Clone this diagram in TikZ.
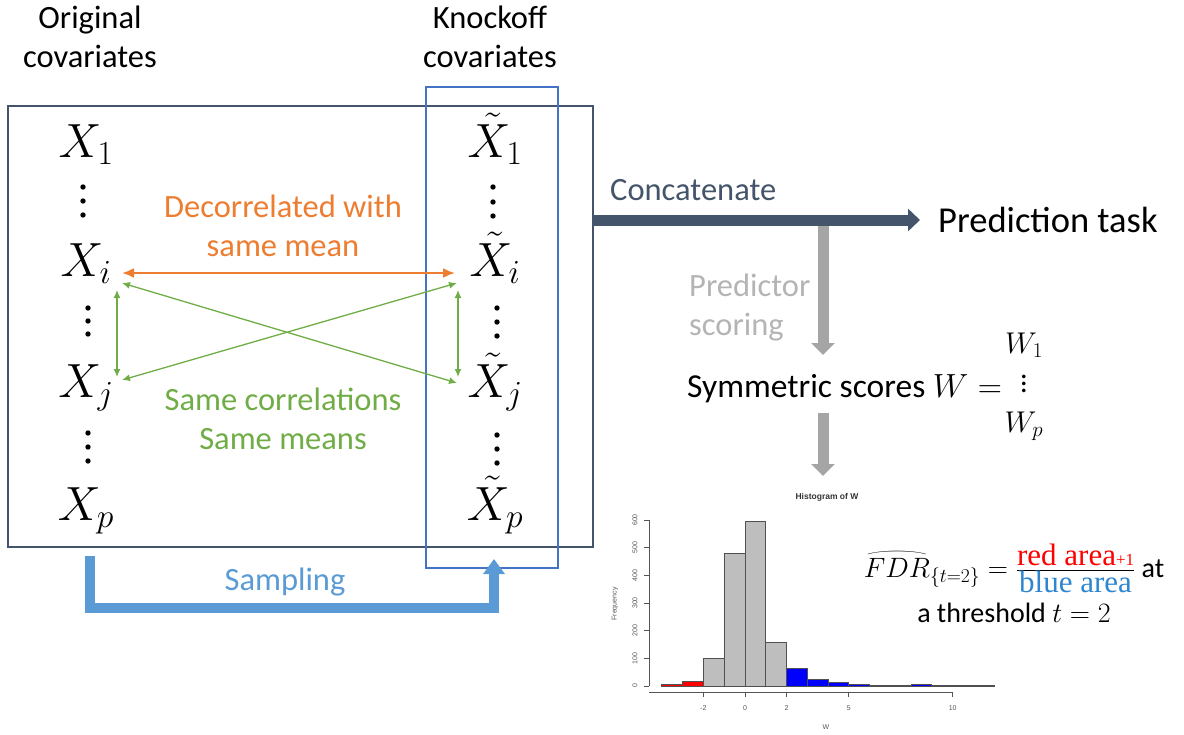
\RequirePackage{fix-cm}
\documentclass[tikz,border=0pt]{standalone}
\usepackage[no-math]{fontspec}
\setmainfont{Carlito}
\newfontfamily\serifrm{Liberation Serif}
\newfontfamily\arialf{Liberation Sans}
\usetikzlibrary{arrows.meta}
\definecolor{slate}{HTML}{44546A}
\definecolor{kblue}{HTML}{4472C4}
\definecolor{orng}{HTML}{ED7D31}
\definecolor{grn}{HTML}{70AD47}
\definecolor{sblue}{HTML}{5B9BD5}
\definecolor{garrow}{HTML}{A5A5A5}
\definecolor{gtext}{HTML}{B4B4B4}
\definecolor{fred}{HTML}{FF0000}
\definecolor{fblue}{HTML}{2E86D1}
\definecolor{hred}{HTML}{FF0000}
\definecolor{hblue}{HTML}{0000FF}
\definecolor{hgrey}{HTML}{BEBEBE}
\definecolor{hedge}{HTML}{505050}
\definecolor{htext}{HTML}{555555}
\newcommand\ctwo[2]{\vtop{\halign{\hfil##\hfil\cr#1\cr#2\cr}}}
\newcommand\cthree[3]{\vtop{\halign{\hfil##\hfil\cr#1\cr#2\cr#3\cr}}}
\newcommand\ltwo[2]{\vtop{\halign{##\hfil\cr#1\cr#2\cr}}}
\newcommand\myvdots{\vbox{\baselineskip7pt\lineskiplimit0pt\kern2pt\hbox{.}\hbox{.}\hbox{.}}}
\newcommand\whfdr{\setbox0\hbox{$FDR$}\vbox{\offinterlineskip\halign{\hfil##\hfil\cr\resizebox{\wd0}{5pt}{$\frown$}\cr\noalign{\kern1.5pt}\box0\cr}}}
\tikzset{
  lbl/.style={font=\fontsize{32.5}{39}\selectfont, inner sep=0pt},
  mx/.style={font=\fontsize{48}{58}\selectfont, inner sep=0pt, anchor=base},
  greenarr/.style={draw=grn, line width=1.3pt, {Latex[length=8pt,width=7pt]}-{Latex[length=8pt,width=7pt]}},
  orarr/.style={draw=orng, line width=2.2pt, {Latex[length=12pt,width=10pt]}-{Latex[length=12pt,width=10pt]}},
  concat/.style={draw=slate, line width=11pt, -{Triangle[length=12pt,width=22pt]}},
  garr/.style={draw=garrow, line width=11pt, -{Triangle[length=12pt,width=23pt]}},
  samp/.style={draw=sblue, line width=10pt, -{Triangle[length=15pt,width=21pt]}, line join=miter},
  htxt/.style={font=\arialf\fontsize{7}{8}\selectfont, text=htext, inner sep=0pt},
  hbar/.style={draw=hedge, line width=0.9pt},
  haxis/.style={draw=htext, line width=0.8pt}
}
\begin{document}
\begin{tikzpicture}[x=1pt,y=-1pt]
\useasboundingbox (0,0) rectangle (1184,734);
% boxes
\node[draw=slate, line width=1.1pt, minimum width=585pt, minimum height=441pt, inner sep=0pt] (bigbox) at (300.5,326.5) {};
\node[draw=kblue, line width=1.1pt, minimum width=132pt, minimum height=481pt, inner sep=0pt] (kbox) at (492,327.5) {};
% headers
\node[lbl, anchor=base] (origlbl) at (90,28) {\ctwo{Original}{covariates}};
\node[lbl, anchor=base] (knocklbl) at (490,28) {\ctwo{Knockoff}{covariates}};
% variables
\node[mx] (X1) at (86,157) {$X_1$};
\node[mx] (Xi) at (86,276) {$X_i$};
\node[mx] (Xj) at (86,397) {$X_j$};
\node[mx] (Xp) at (86,520) {$X_p$};
\node[mx] (Xt1) at (495,157) {$\tilde{X}_1$};
\node[mx] (Xti) at (495,276) {$\tilde{X}_i$};
\node[mx] (Xtj) at (495,397) {$\tilde{X}_j$};
\node[mx] (Xtp) at (495,520) {$\tilde{X}_p$};
% vertical dots
\foreach \x/\y in {83/187,83/201,83/215, 88/308,88/321,88/334, 88/433,88/447,88/461,
                   493/187,493/202,493/216, 497/308,497/322,497/336, 497/435,497/449,497/463}
  \fill (\x,\y) circle (2.7pt);
% relation arrows
\coordinate (oL) at (122,273); \coordinate (oR) at (455,273);
\draw[orarr] (oL) -- (oR);
\coordinate (gLi) at (122,283); \coordinate (gRj) at (457,383);
\coordinate (gLj) at (122,380); \coordinate (gRi) at (457,283);
\draw[greenarr] (gLi) -- (gRj);
\draw[greenarr] (gLj) -- (gRi);
\coordinate (vLt) at (117,290); \coordinate (vLb) at (117,377);
\coordinate (vRt) at (458,290); \coordinate (vRb) at (458,377);
\draw[greenarr] (vLt) -- (vLb);
\draw[greenarr] (vRt) -- (vRb);
\node[lbl, anchor=base, text=orng] (decor) at (283,217) {\ctwo{Decorrelated with}{same mean}};
\node[lbl, anchor=base, text=grn] (same) at (283,410) {\ctwo{Same correlations}{Same means}};
% sampling
\coordinate (s1) at (90,556); \coordinate (s2) at (494,559);
\draw[samp] (s1) -- ++(0,52) -| (s2);
\node[lbl, anchor=base, text=sblue] (sampl) at (285,590) {Sampling};
% concatenate
\node[anchor=base west, inner sep=0pt, font=\fontsize{36.5}{44}\selectfont] (pred) at (938,232) {Prediction task};
\coordinate (ctip) at (920,220);
\draw[concat] (bigbox.east |- ctip) -- (ctip);
\node[lbl, anchor=base west, text=slate] (concatlbl) at (610,200) {Concatenate};
% scoring
\coordinate (g1s) at (823,225.5); \coordinate (g1e) at (823,355);
\draw[garr] (g1s) -- (g1e);
\node[lbl, anchor=base west, text=gtext] (predsc) at (689,296) {\ltwo{Predictor}{scoring}};
\node[anchor=base west, inner sep=0pt, font=\fontsize{33.5}{40}\selectfont] (sym) at (687,397) {Symmetric scores $W=$};
\node[anchor=base, inner sep=0pt, font=\fontsize{30}{39.5}\selectfont] (wcol) at (1024,353) {\cthree{$W_1$}{\myvdots}{$W_p$}};
\coordinate (g2s) at (823,413); \coordinate (g2e) at (823,476);
\draw[garr] (g2s) -- (g2e);
% histogram
\begin{scope}[shift={(745,686)}, x=20.77pt, y=0.2767pt]
  \foreach \a/\h/\c in {-4/7/hred, -3/15/hred, -2/100/hgrey, -1/480/hgrey, 0/593/hgrey, 1/158/hgrey,
                        2/65/hblue, 3/22/hblue, 4/12/hblue, 5/5/hblue, 6/3/hblue, 7/3/hblue,
                        8/4/hblue, 9/3/hblue, 10/3/hgrey, 11/3/hblue}
    \filldraw[hbar, fill=\c] (\a,0) rectangle ++(1,\h);
\end{scope}
\draw[haxis] (649,686) -- (649,520);
\foreach \v/\l in {0/0,1/100,2/200,3/300,4/400,5/500,6/600} {
  \draw[haxis] (649,{686-\v*27.67}) -- ++(-5,0);
  \node[htxt, rotate=90] at (635,{686-\v*27.67}) {\l};
}
\node[htxt, rotate=90] (freq) at (615,604) {Frequency};
\draw[haxis] (649,692) -- (952.7,692);
\foreach \v in {-2,0,2,5,10} {
  \draw[haxis] ({745+\v*20.77},692) -- ++(0,5);
  \node[htxt] at ({745+\v*20.77},708) {\v};
}
\node[htxt] (wlbl) at (826,727) {W};
\node[htxt, font=\arialf\bfseries\fontsize{8.5}{10}\selectfont, text=black!80] (htitle) at (827,497) {Histogram of W};
% FDR
\node[anchor=base, inner sep=0pt, font=\fontsize{28}{45}\selectfont] (fdr) at (1014,577)
  {\ctwo{$\whfdr_{\{t=2\}} = \frac{\hbox{\color{fred}\serifrm\fontsize{31}{31}\selectfont red area\fontsize{17}{17}\selectfont+1}}{\hbox{\color{fblue}\serifrm\fontsize{31}{31}\selectfont blue area}}$ at}{a threshold $t = 2$}};
\end{tikzpicture}
\end{document}
